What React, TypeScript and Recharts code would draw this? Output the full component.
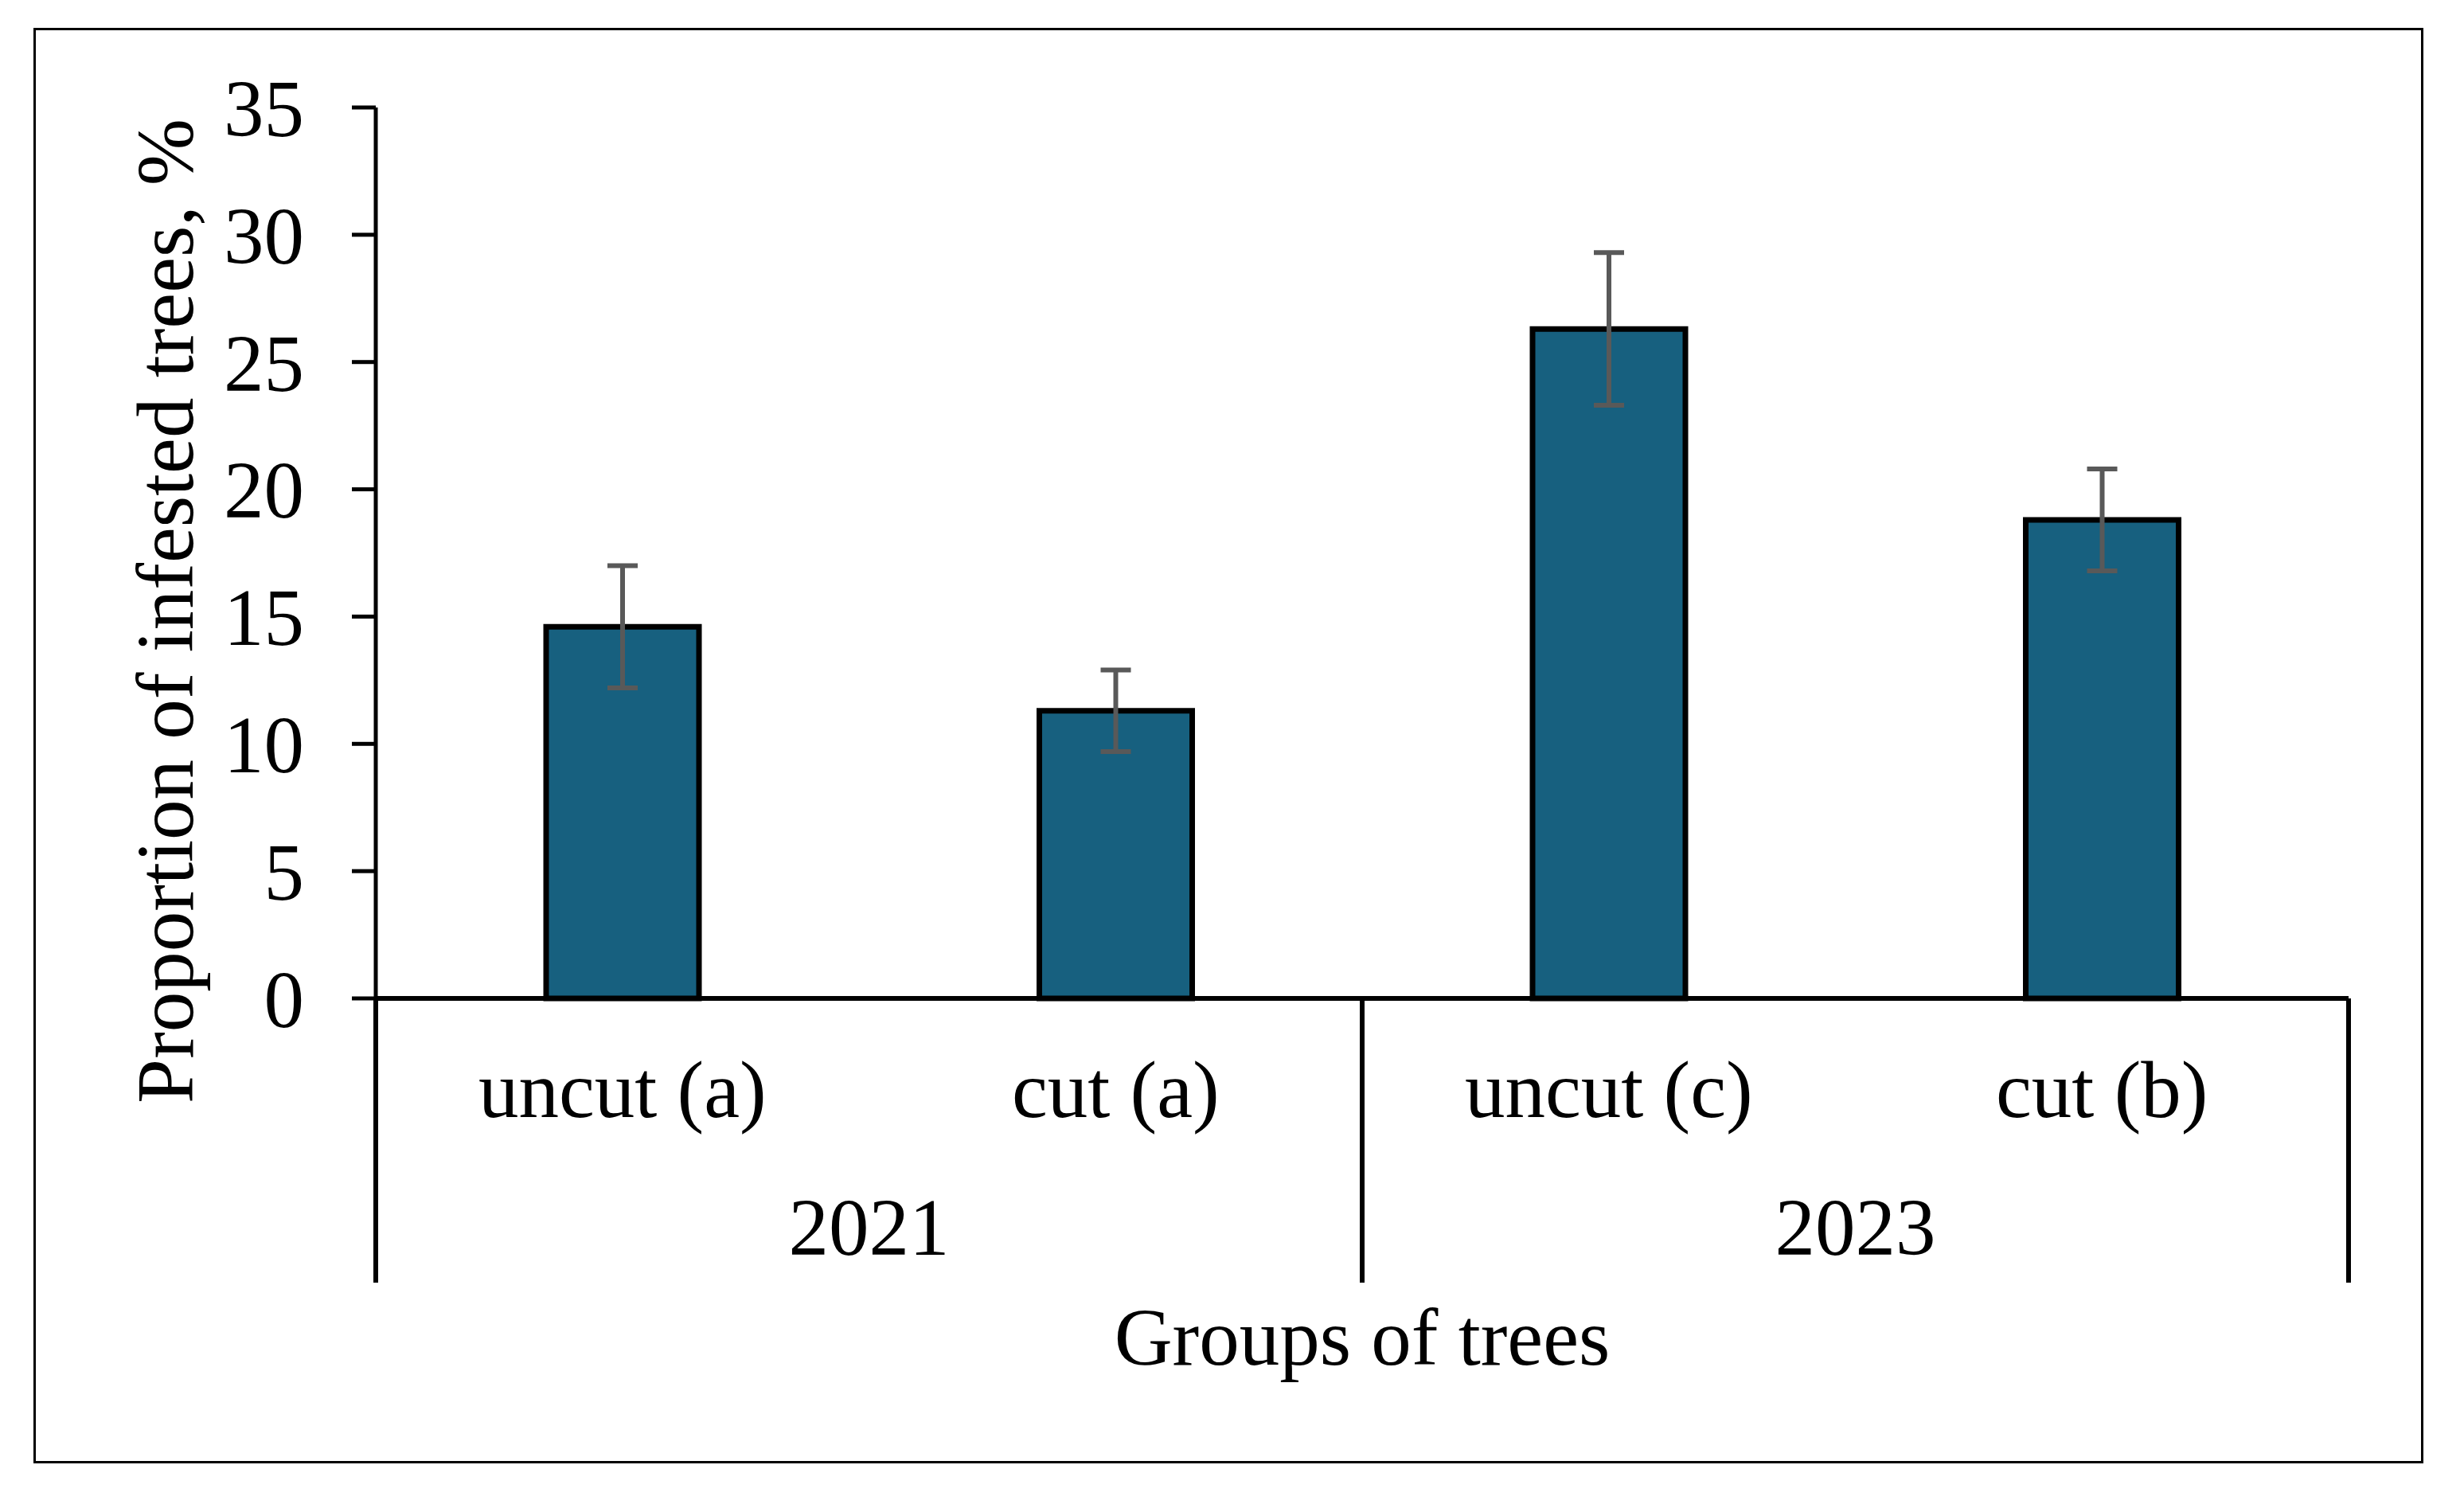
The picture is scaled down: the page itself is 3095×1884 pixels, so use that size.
import { BarChart, Bar, XAxis, YAxis, ErrorBar, Label } from 'recharts';

const categories = ['uncut (a)', 'cut (a)', 'uncut (c)', 'cut (b)'];
const years = ['2021', '2023'];
const yearOf = [0, 0, 1, 1];
const proportions = [14.6, 11.3, 26.3, 18.8];
const errors = [2.4, 1.6, 3.0, 2.0];
const yTicks = [0, 5, 10, 15, 20, 25, 30, 35];

const data = categories.map((name, i) => ({
  name,
  value: proportions[i],
  err: errors[i],
  year: years[yearOf[i]],
}));

const W = 3095;
const H = 1884;
const MARGIN = { top: 135, right: 145, bottom: 0, left: 150 };
const Y_AXIS_W = 322;
const X_AXIS_H = 630;
const FONT = "'Liberation Serif', 'Times New Roman', serif";
const FS = 101;

const plotWidth = W - MARGIN.left - MARGIN.right - Y_AXIS_W;
const band = plotWidth / categories.length;

const CategoryTick = (props: any) => {
  const { x, y, payload } = props;
  const i = props.index ?? payload.index;
  const first = i === 0 || yearOf[i] !== yearOf[i - 1];
  const last = i === categories.length - 1;
  return (
    <g>
      <text x={x} y={y + 149} textAnchor="middle" fontFamily={FONT} fontSize={FS} fill="#000">
        {payload.value}
      </text>
      {first && (
        <>
          <line x1={x - band / 2} y1={y} x2={x - band / 2} y2={y + 357} stroke="#000" strokeWidth={6} />
          <text x={x + band / 2} y={y + 322} textAnchor="middle" fontFamily={FONT} fontSize={FS} fill="#000">
            {data[i].year}
          </text>
        </>
      )}
      {last && (
        <line x1={x + band / 2} y1={y} x2={x + band / 2} y2={y + 357} stroke="#000" strokeWidth={6} />
      )}
    </g>
  );
};

export default function App() {
  return (
    <div style={{ position: 'relative', width: W, height: H, background: '#fff' }}>
      <style>{'body{margin:0;overflow:hidden;}'}</style>
      <BarChart width={W} height={H} data={data} margin={MARGIN}>
        <XAxis
          dataKey="name"
          height={X_AXIS_H}
          interval={0}
          tickLine={false}
          tickSize={0}
          tickMargin={0}
          axisLine={{ stroke: '#000', strokeWidth: 6 }}
          tick={(p: any) => <CategoryTick {...p} />}
        >
          <Label
            content={(p: any) => {
              const vb = p.viewBox;
              return (
                <text
                  x={vb.x + vb.width / 2}
                  y={vb.y + 460}
                  textAnchor="middle"
                  fontFamily={FONT}
                  fontSize={FS}
                  fill="#000"
                >
                  Groups of trees
                </text>
              );
            }}
          />
        </XAxis>
        <YAxis
          width={Y_AXIS_W}
          domain={[0, 35]}
          ticks={yTicks}
          interval={0}
          tickSize={30}
          tickMargin={60}
          axisLine={{ stroke: '#000', strokeWidth: 5 }}
          tickLine={{ stroke: '#000', strokeWidth: 5 }}
          tick={{ fill: '#000', fontSize: FS, fontFamily: FONT }}
        >
          <Label
            content={(p: any) => {
              const vb = p.viewBox;
              const cx = vb.x + 92;
              const cy = vb.y + vb.height / 2 + 73;
              return (
                <text
                  x={cx}
                  y={cy}
                  transform={`rotate(-90 ${cx} ${cy})`}
                  textAnchor="middle"
                  fontFamily={FONT}
                  fontSize={FS}
                  fill="#000"
                >
                  Proportion of infested trees, %
                </text>
              );
            }}
          />
        </YAxis>
        <Bar dataKey="value" fill="#17607F" stroke="#000" strokeWidth={7} barSize={192} isAnimationActive={false}>
          <ErrorBar dataKey="err" width={19} stroke="#595959" strokeWidth={6} isAnimationActive={false} />
        </Bar>
      </BarChart>
      <div
        style={{
          position: 'absolute',
          left: 42,
          top: 35,
          width: 3044 - 42,
          height: 1838 - 35,
          border: '3px solid #000',
          boxSizing: 'border-box',
          pointerEvents: 'none',
        }}
      />
    </div>
  );
}
